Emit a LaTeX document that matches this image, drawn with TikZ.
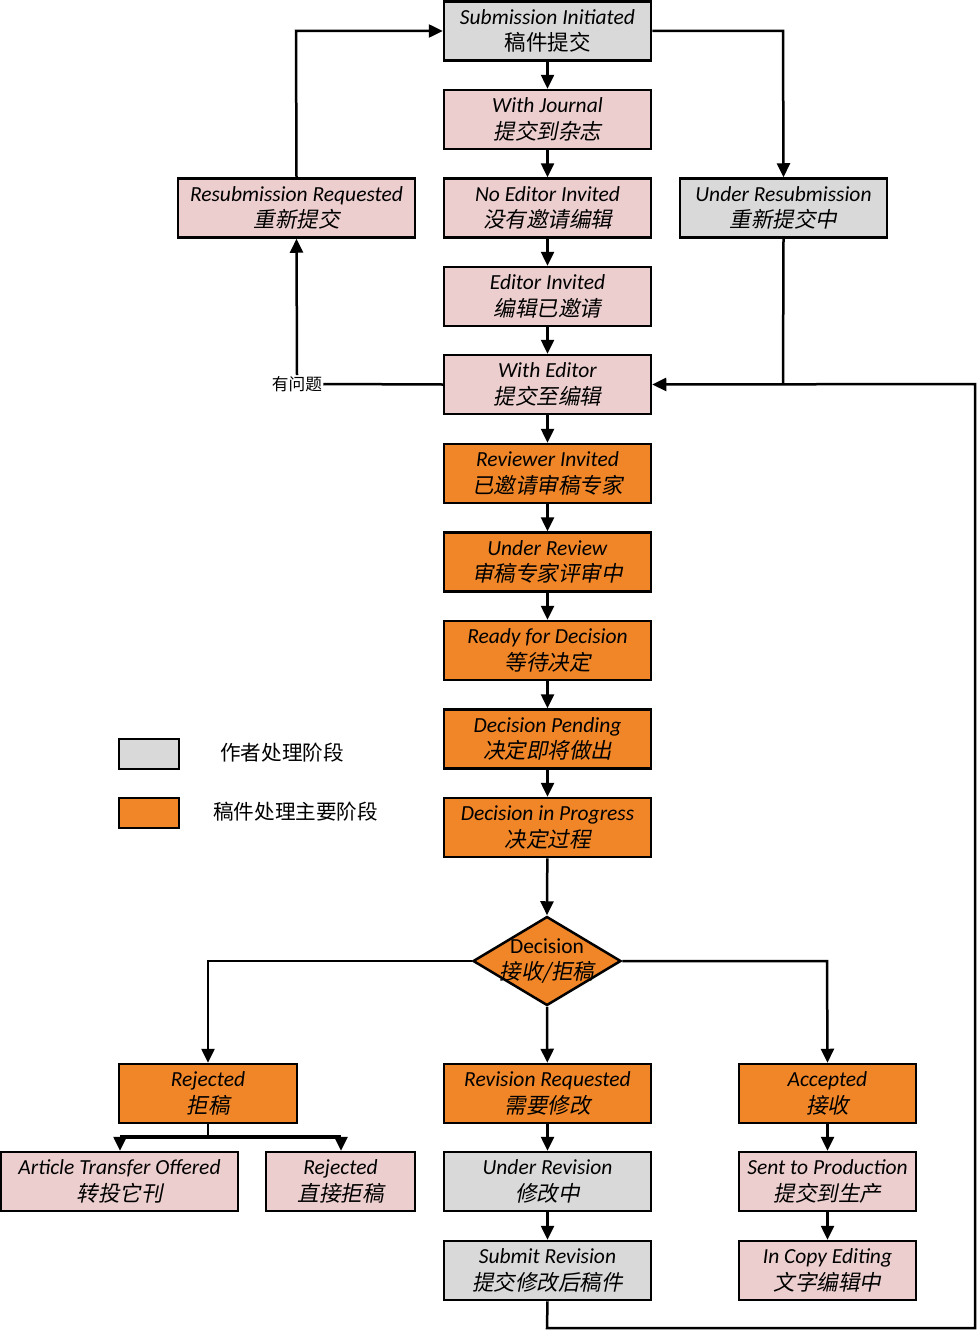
\documentclass[tikz,border=0pt]{standalone}
\usepackage{fontspec}
\setmainfont{Carlito}
\newfontfamily\cjk{Noto Sans CJK SC}[FakeSlant=0.2]
\newfontfamily\cjkup{Noto Sans CJK SC}
\usetikzlibrary{shapes.geometric,arrows.meta}
\definecolor{pinkf}{RGB}{236,206,206}
\definecolor{grayf}{RGB}{217,217,217}
\definecolor{orangef}{RGB}{240,134,40}
\tikzset{
  box/.style={draw=black,line width=2.5pt,minimum width=207pt,minimum height=59pt,align=center,inner sep=0pt,font=\fontsize{21.5}{26.5}\selectfont},
  pk/.style={box,fill=pinkf},
  gr/.style={box,fill=grayf},
  og/.style={box,fill=orangef},
  conn/.style={line width=2.5pt,-{Triangle[length=14pt,width=13pt]}},
  line/.style={line width=2.5pt},
  dia/.style={diamond,draw=black,line width=2.5pt,fill=orangef,minimum width=148pt,minimum height=89pt,inner sep=0pt},
  diatext/.style={align=center,inner sep=0pt,font=\fontsize{21.5}{26.5}\selectfont},
  lbl/.style={font=\cjkup\fontsize{16.7}{18}\selectfont,inner sep=1pt},
  legtext/.style={anchor=west,inner sep=0pt,font=\cjkup\fontsize{20.6}{22}\selectfont},
  leg/.style={draw=black,line width=2.5pt,minimum width=60pt,minimum height=30pt,inner sep=0pt}
}
\newcommand{\tw}[2]{\textit{#1}\\{\cjk #2}}
\begin{document}
\begin{tikzpicture}[x=1pt,y=-1pt]
\useasboundingbox[fill=white] (0,0) rectangle (977,1330);
% central column
\node[gr] (sub) at (547.5,31) {\textit{Submission Initiated}\\{\cjkup 稿件提交}};
\node[pk] (wj) at (547.5,119.5) {\tw{With Journal}{提交到杂志}};
\node[pk] (nei) at (547.5,208) {\tw{No Editor Invited}{没有邀请编辑}};
\node[pk] (ei) at (547.5,296.5) {\tw{Editor Invited}{编辑已邀请}};
\node[pk] (we) at (547.5,384.5) {\tw{With Editor}{提交至编辑}};
\node[og] (ri) at (547.5,473.5) {\tw{Reviewer Invited}{已邀请审稿专家}};
\node[og] (ur) at (547.5,562) {\tw{Under Review}{审稿专家评审中}};
\node[og] (rfd) at (547.5,650.5) {\tw{Ready for Decision}{等待决定}};
\node[og] (dp) at (547.5,739) {\tw{Decision Pending}{决定即将做出}};
\node[og] (dip) at (547.5,827.5) {\tw{Decision in Progress}{决定过程}};
\node[dia] (dec) at (547,961) {};
\node[diatext] (dect) at (547,961) {Decision\\{\cjk 接收/拒稿}};
\node[og] (rr) at (547.5,1093.5) {\tw{Revision Requested}{需要修改}};
\node[gr] (urv) at (547.5,1181.5) {\tw{Under Revision}{修改中}};
\node[gr] (sr) at (547.5,1270.5) {\tw{Submit Revision}{提交修改后稿件}};
% sides
\node[pk,minimum width=237pt] (rsr) at (296.5,208) {\tw{Resubmission Requested}{重新提交}};
\node[gr] (urs) at (783.5,208) {\tw{Under Resubmission}{重新提交中}};
\node[og,minimum width=178pt] (rej) at (208,1093.5) {\tw{Rejected}{拒稿}};
\node[pk,minimum width=237pt] (ato) at (119.5,1181.5) {\tw{Article Transfer Offered}{转投它刊}};
\node[pk,minimum width=149pt] (rej2) at (340.5,1181.5) {\tw{Rejected}{直接拒稿}};
\node[og,minimum width=177pt] (acc) at (827.5,1093.5) {\tw{Accepted}{接收}};
\node[pk,minimum width=177pt] (stp) at (827.5,1181.5) {\tw{Sent to Production}{提交到生产}};
\node[pk,minimum width=177pt] (ice) at (827.5,1270.5) {\tw{In Copy Editing}{文字编辑中}};
% legend
\node[leg,fill=grayf] (lg1) at (149,754) {};
\node[leg,fill=orangef] (lg2) at (149,813) {};
\node[legtext] (lt1) at (220,753) {作者处理阶段};
\node[legtext] (lt2) at (213,812) {稿件处理主要阶段};
% label
\node[lbl] (prob) at (297,384) {有问题};
% coordinates
\coordinate (c1) at (296,31);
\coordinate (c2) at (783,31);
\coordinate (c3) at (783,384);
\coordinate (c4) at (547,1328);
\coordinate (c5) at (975,1328);
\coordinate (c6) at (975,384);
\coordinate (dl) at (208,961);
\coordinate (dr) at (827,961);
\coordinate (sp) at (208,1137);
\coordinate (spl) at (120,1137);
\coordinate (spr) at (341,1137);
% vertical chain
\draw[conn] (sub) -- (wj);
\draw[conn] (wj) -- (nei);
\draw[conn] (nei) -- (ei);
\draw[conn] (ei) -- (we);
\draw[conn] (we) -- (ri);
\draw[conn] (ri) -- (ur);
\draw[conn] (ur) -- (rfd);
\draw[conn] (rfd) -- (dp);
\draw[conn] (dp) -- (dip);
\draw[conn] (dip) -- (dec.north);
\draw[conn] (dec.south) -- (rr);
\draw[conn] (rr) -- (urv);
\draw[conn] (urv) -- (sr);
\draw[conn] (acc) -- (stp);
\draw[conn] (stp) -- (ice);
% loops
\draw[conn] (rsr.north) -- (c1) -- (sub.west);
\draw[conn] (sub.east) -- (c2) -- (urs.north);
\draw[line] (urs.south) -- (c3);
\draw[conn] (sr.south) -- (c4) -- (c5) -- (c6) -- (we.east);
\draw[line] (we.west) -- (prob.east);
\draw[conn] (prob.north) -- (rsr.south);
% decision branches
\draw[conn] (dec.west) -- (dl) -- (rej.north);
\draw[conn] (dec.east) -- (dr) -- (acc.north);
\draw[line] (rej.south) -- (sp);
\draw[line,line width=3.5pt] (spl) -- (spr);
\draw[conn] (spl) -- (ato.north -| spl);
\draw[conn] (spr) -- (rej2.north -| spr);
\end{tikzpicture}
\end{document}
